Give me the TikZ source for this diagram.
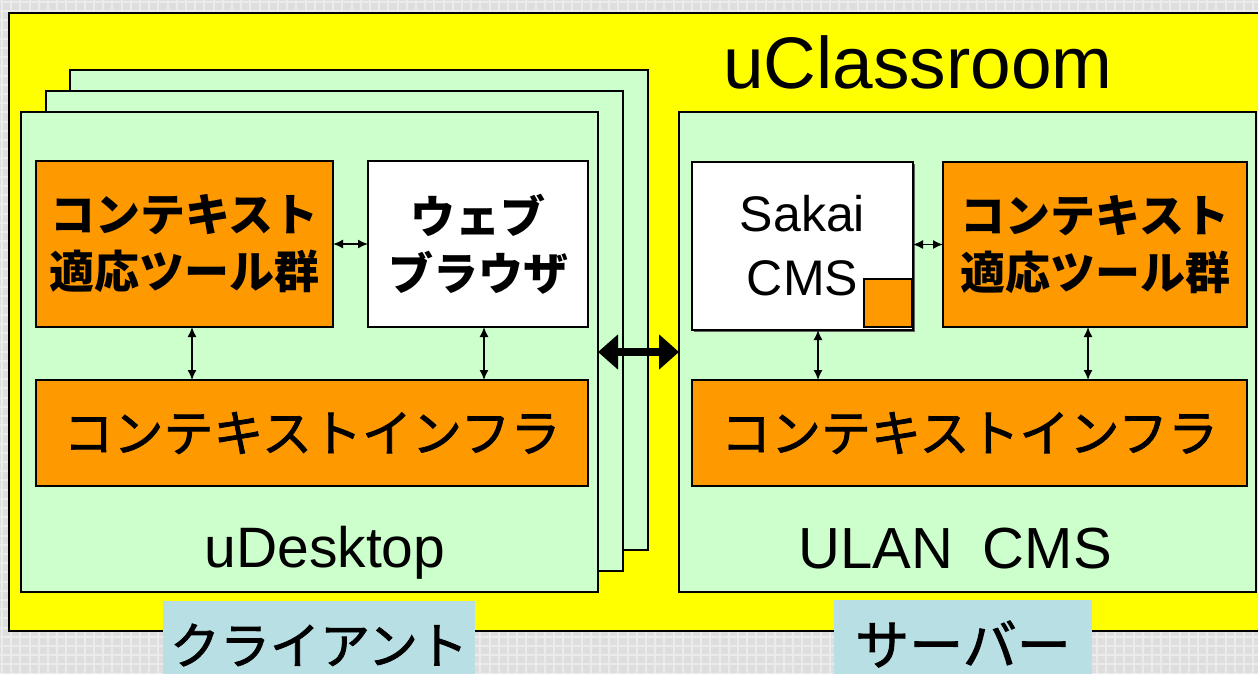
\documentclass[tikz,border=0pt]{standalone}
\usepackage{fontspec}
\setmainfont{Liberation Sans}
\newfontfamily\jp{Noto Sans CJK JP}
\newfontfamily\jpmid{Noto Sans CJK JP}[FakeBold=1.6]
\usetikzlibrary{arrows.meta}

\definecolor{bggray}{HTML}{DEDEDE}
\definecolor{bgline}{HTML}{EBEBEB}
\definecolor{roomyellow}{HTML}{FFFF00}
\definecolor{panegreen}{HTML}{CCFFCC}
\definecolor{toolorange}{HTML}{FF9900}
\definecolor{tagblue}{HTML}{B8DFE3}
\definecolor{shadowgray}{HTML}{606060}

\tikzset{
  panel/.style={draw=black, line width=2pt, inner sep=0pt, outer sep=0pt, anchor=north west},
  pane/.style={panel, fill=panegreen},
  tool/.style={panel, fill=toolorange, line width=1.8pt},
  whitebox/.style={panel, fill=white, line width=1.8pt},
  tag/.style={inner sep=0pt, outer sep=0pt, anchor=north west, fill=tagblue},
  boldjp/.style={font=\jp\bfseries\fontsize{45}{57}\selectfont, align=center},
  plainjp/.style={font=\jpmid\fontsize{50}{58}\selectfont},
  link/.style={line width=1.5pt, {Latex[length=10pt,width=9pt]}-{Latex[length=10pt,width=9pt]}},
  biglink/.style={line width=8pt, {Triangle[length=20pt,width=34pt]}-{Triangle[length=20pt,width=34pt]}},
}

\begin{document}
\begin{tikzpicture}[x=1pt, y=-1pt]
  \useasboundingbox (0,0) rectangle (1258,673);
  \clip (0,0) rectangle (1258,673);

  % grid-paper backdrop
  \fill[bggray] (0,0) rectangle (1258,673);
  \foreach \k in {0,...,137} {
    \draw[bgline, line width=2pt] (\k*9.2+2,0) -- (\k*9.2+2,673);
  }
  \foreach \k in {0,...,74} {
    \draw[bgline, line width=2pt] (0,\k*9.2+2) -- (1258,\k*9.2+2);
  }

  % the classroom
  \node[panel, fill=roomyellow, minimum width=1262pt, minimum height=618pt] (room) at (9,13) {};
  \node[font=\fontsize{73}{73}\selectfont, anchor=base] (roomtitle) at (918,88) {uClassroom};

  % stacked client desktops
  \node[pane, minimum width=578pt, minimum height=480pt] (desk3) at (70,70) {};
  \node[pane, minimum width=577pt, minimum height=480pt] (desk2) at (46,91) {};
  \node[pane, minimum width=577pt, minimum height=480pt] (desk) at (21,112) {};
  \node[font=\fontsize{57}{57}\selectfont, anchor=base] (desktitle) at (325,567) {uDesktop};

  % server
  \node[pane, minimum width=577pt, minimum height=480pt] (ulan) at (679,112) {};
  \node[font=\fontsize{58}{58}\selectfont, anchor=base] (ulantitle) at (955,568) {ULAN\hspace{30pt}CMS};

  % client components
  \node[tool, minimum width=297pt, minimum height=166pt, boldjp] (lctx) at (36,161)
    {コンテキスト\\適応ツール群};
  \node[whitebox, minimum width=220pt, minimum height=166pt, boldjp] (browser) at (368,161)
    {ウェブ\\ブラウザ};
  \node[tool, minimum width=552pt, minimum height=106pt, plainjp] (linfra) at (36,380)
    {コンテキストインフラ};

  % server components: Sakai box with a slight drop shadow
  \fill[shadowgray] (694,164) rectangle (915,332);
  \node[whitebox, line width=2.2pt, minimum width=221pt, minimum height=168pt,
        font=\fontsize{50}{64}\selectfont, align=center] (sakai) at (692,162)
    {Sakai\\CMS};
  \node[tool, line width=1.6pt, minimum width=48pt, minimum height=48pt] (plug) at (864,279) {};
  \node[tool, minimum width=304pt, minimum height=165pt, boldjp] (rctx) at (943,162)
    {コンテキスト\\適応ツール群};
  \node[tool, minimum width=555pt, minimum height=106pt, plainjp] (rinfra) at (692,380)
    {コンテキストインフラ};

  % links inside the desktop
  \draw[link] (lctx.east) -- (browser.west);
  \draw[link] ([xshift=7.5pt]lctx.south) -- ([xshift=7.5pt]lctx.south |- linfra.north);
  \draw[link] ([xshift=6pt]browser.south) -- ([xshift=6pt]browser.south |- linfra.north);

  % links inside the server
  \draw[link] (sakai.east |- rctx.west) -- (rctx.west);
  \draw[link] ([xshift=15.5pt]sakai.south) -- ([xshift=15.5pt]sakai.south |- rinfra.north);
  \draw[link] ([xshift=-7pt]rctx.south) -- ([xshift=-7pt]rctx.south |- rinfra.north);

  % client <-> server
  \draw[biglink] (desk.east) -- (ulan.west);

  % role tags
  \node[tag, minimum width=312pt, minimum height=88pt, font=\jpmid\fontsize{50}{50}\selectfont] (clienttag) at (163,601)
    {クライアント};
  \node[tag, minimum width=258pt, minimum height=88pt, font=\jpmid\fontsize{54}{54}\selectfont] (servertag) at (834,600)
    {サーバー};
\end{tikzpicture}
\end{document}
